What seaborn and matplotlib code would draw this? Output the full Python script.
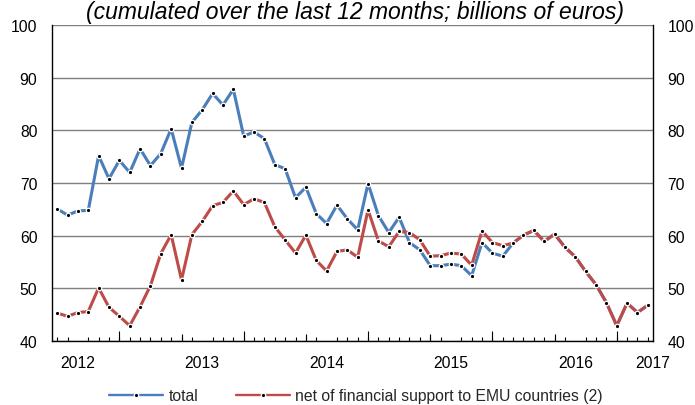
import numpy as np
import pandas as pd
import matplotlib
matplotlib.use("Agg")
import matplotlib.pyplot as plt
import seaborn as sns

# ── Data (monthly, billions of euros, cumulated over 12 months) ──────────────
total = [
    65.1, 63.9, 64.7, 64.8, 75.2, 70.8, 74.3, 72.0, 76.5, 73.3,
    75.6, 80.3, 72.8, 81.5, 83.9, 87.0, 84.8, 87.8, 78.9, 79.7,
    78.4, 73.5, 72.7, 67.2, 69.2, 64.2, 62.3, 65.8, 63.2, 61.1,
    69.9, 63.8, 60.6, 63.5, 58.7, 57.3, 54.3, 54.3, 54.6, 54.3,
    52.4, 58.7, 56.7, 56.1, 58.6, 60.1, 61.0, 58.9, 60.3, 57.8,
    56.0, 53.2, 50.7, 47.3, 42.9, 47.2, 45.4, 46.8,
]
net = [
    45.3, 44.7, 45.4, 45.6, 50.1, 46.4, 44.7, 42.9, 46.5, 50.5,
    56.6, 60.2, 51.6, 60.2, 62.7, 65.7, 66.3, 68.5, 65.9, 67.0,
    66.3, 61.7, 59.2, 56.7, 60.1, 55.3, 53.3, 57.0, 57.3, 55.9,
    64.9, 59.0, 57.9, 60.8, 60.6, 59.2, 56.1, 56.2, 56.7, 56.5,
    54.4, 60.9, 58.7, 58.1, 58.6, 60.1, 61.0, 58.9, 60.3, 57.8,
    56.0, 53.2, 50.7, 47.3, 42.9, 47.2, 45.4, 46.8,
]
series_names = ["total", "net of financial support to EMU countries (2)"]
year_labels = ["2012", "2013", "2014", "2015", "2016", "2017"]
y_ticks = [40, 50, 60, 70, 80, 90, 100]

months = np.arange(len(total))
df = pd.DataFrame({
    "month": np.concatenate([months, months]),
    "value": total + net,
    "series": [series_names[0]] * len(total) + [series_names[1]] * len(net),
})

# ── Style ─────────────────────────────────────────────────────────────────────
sns.set_theme(style="white")
plt.rcParams["font.family"] = ["Liberation Sans", "DejaVu Sans"]

BLUE = "#4A7EBB"
RED = "#BE4B48"
FS = 11.3

fig = plt.figure(figsize=(6.95, 4.06), dpi=100)
ax = fig.add_axes([52 / 695, 1 - 342 / 406, 601 / 695, 316 / 406])

sns.lineplot(data=df, x="month", y="value", hue="series", hue_order=series_names,
             palette=[BLUE, RED], linewidth=2.2, marker="o", markersize=3.2,
             markerfacecolor="black", markeredgecolor="white", markeredgewidth=0.9,
             ax=ax, legend=True)

ax.set_xlim(-0.5, 57.5)
ax.set_ylim(40, 100)
ax.set_xlabel("")
ax.set_ylabel("")

# y axis: labels both sides, horizontal gridlines
ax.set_yticks(y_ticks)
ax.set_yticklabels([str(v) for v in y_ticks])
ax.tick_params(axis="y", which="both", length=0, labelsize=FS, colors="black",
               labelleft=True, labelright=True, pad=10.5)
ax.grid(axis="y", color="#7f7f7f", linewidth=1.0)
ax.grid(axis="x", visible=False)

# x axis: year labels, monthly minor ticks, half-year / year ticks
year_pos = [2, 14, 26, 38, 50, 57.45]
ax.set_xticks(year_pos)
ax.set_xticklabels(year_labels)
ax.set_xticks(months, minor=True)
ax.tick_params(axis="x", which="major", length=0, labelsize=FS, colors="black", pad=10)
ax.tick_params(axis="x", which="minor", direction="in", length=3, width=0.8,
               color="black", bottom=True)

sec_long = ax.secondary_xaxis("bottom")
sec_long.set_xticks([6, 18, 30, 42, 54])
sec_long.tick_params(direction="in", length=7.5, width=0.8, color="black", labelbottom=False)
sec_long.spines["bottom"].set_visible(False)

sec_mid = ax.secondary_xaxis("bottom")
sec_mid.set_xticks([12, 24, 36, 48])
sec_mid.tick_params(direction="in", length=5, width=0.8, color="black", labelbottom=False)
sec_mid.spines["bottom"].set_visible(False)

for side in ["left", "right", "bottom"]:
    ax.spines[side].set_visible(True)
    ax.spines[side].set_color("black")
    ax.spines[side].set_linewidth(1.0)
ax.spines["top"].set_visible(False)

# legend below the plot
handles, labels = ax.get_legend_handles_labels()
ax.get_legend().remove()
leg = fig.legend(handles, labels, loc="center", bbox_to_anchor=(0.512, 1 - 397 / 406),
                 ncol=2, frameon=False, fontsize=FS, handlelength=3.45, handletextpad=0.32,
                 columnspacing=2.4, borderaxespad=0)
for h in leg.get_lines():
    h.set_linewidth(1.7)

fig.text(0.511, 1 - 18.5 / 406, "(cumulated over the last 12 months; billions of euros)",
         ha="center", va="baseline", fontsize=16.5, style="italic", color="black")

fig.savefig("out.png", dpi=100)
plt.close(fig)
